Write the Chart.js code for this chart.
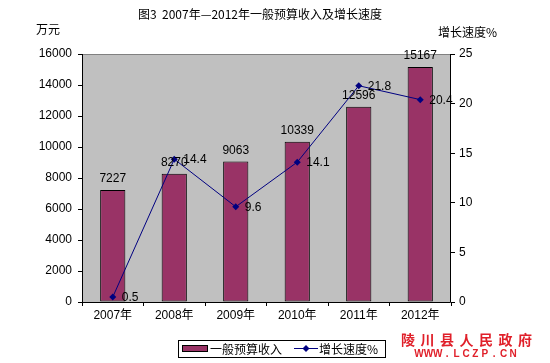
<!DOCTYPE html>
<html>
<head>
<meta charset="utf-8">
<script src="https://cdn.jsdelivr.net/npm/chart.js@4.4.0/dist/chart.umd.min.js"></script>
<style>
  html, body { margin: 0; padding: 0; background: #fff; }
  #wrap { width: 550px; height: 363px; }
</style>
</head>
<body>
<div id="wrap"><canvas id="c"></canvas></div>
<script>
var years = ["2007年", "2008年", "2009年", "2010年", "2011年", "2012年"];
var revenue = [7227, 8270, 9063, 10339, 12596, 15167];
var growth = [0.5, 14.4, 9.6, 14.1, 21.8, 20.4];
var leftTicks = [0, 2000, 4000, 6000, 8000, 10000, 12000, 14000, 16000];
var rightTicks = [0, 5, 10, 15, 20, 25];

var FONT = "'Liberation Sans', Arial, 'Noto Sans CJK SC', sans-serif";
var CJK = "'Noto Sans CJK SC', sans-serif";

// gray plot background + frame, value labels, texts, legend box
var decor = {
    id: "decor",
    beforeDatasetsDraw: function (chart) {
        var a = chart.chartArea, ctx = chart.ctx;
        ctx.save();
        ctx.fillStyle = "#c0c0c0";
        ctx.fillRect(a.left, a.top, a.right - a.left, a.bottom - a.top);
        ctx.restore();
    },
    afterDatasetsDraw: function (chart) {
        var a = chart.chartArea, ctx = chart.ctx;
        ctx.save();
        ctx.strokeStyle = "#808080";
        ctx.lineWidth = 1;
        ctx.beginPath();
        ctx.moveTo(a.left, a.top + 0.5);
        ctx.lineTo(a.right, a.top + 0.5);
        ctx.stroke();
        ctx.strokeStyle = "#000";
        ctx.beginPath();
        ctx.moveTo(a.left + 0.5, a.top);
        ctx.lineTo(a.left + 0.5, a.bottom + 0.5);
        ctx.lineTo(a.right - 0.5, a.bottom + 0.5);
        ctx.lineTo(a.right - 0.5, a.top);
        ctx.stroke();

        ctx.font = "12px " + FONT;
        ctx.fillStyle = "#000";
        // bar labels
        ctx.textAlign = "center";
        ctx.textBaseline = "bottom";
        chart.getDatasetMeta(0).data.forEach(function (b, i) {
            ctx.fillText(String(revenue[i]), b.x, b.y - 5);
        });
        // line labels
        ctx.textAlign = "left";
        ctx.textBaseline = "middle";
        chart.getDatasetMeta(1).data.forEach(function (p, i) {
            ctx.fillText(String(growth[i]), p.x + 9, p.y + 1);
        });
        ctx.restore();
    },
    afterDraw: function (chart) {
        var ctx = chart.ctx;
        ctx.save();
        ctx.fillStyle = "#000";
        ctx.textBaseline = "middle";
        ctx.font = "12px " + CJK;
        ctx.textAlign = "center";
        ctx.fillText("图3  2007年—2012年一般预算收入及增长速度", 260, 14);
        ctx.textAlign = "left";
        ctx.fillText("万元", 36, 29);
        ctx.fillText("增长速度%", 438, 32);

        // legend
        ctx.strokeStyle = "#000";
        ctx.lineWidth = 1;
        ctx.strokeRect(178.5, 340.5, 207, 17);
        ctx.fillStyle = "#993366";
        ctx.fillRect(182, 345, 26, 7);
        ctx.strokeRect(182.5, 345.5, 25, 6);
        ctx.fillStyle = "#000";
        ctx.fillText("一般预算收入", 210, 349);
        ctx.strokeStyle = "#000080";
        ctx.beginPath();
        ctx.moveTo(294, 348.5);
        ctx.lineTo(318, 348.5);
        ctx.stroke();
        ctx.fillStyle = "#000080";
        ctx.beginPath();
        ctx.moveTo(306, 345);
        ctx.lineTo(309.5, 348.5);
        ctx.lineTo(306, 352);
        ctx.lineTo(302.5, 348.5);
        ctx.closePath();
        ctx.fill();
        ctx.fillStyle = "#000";
        ctx.fillText("增长速度%", 319, 349);

        // watermark
        ctx.fillStyle = "#e0202a";
        ctx.textAlign = "center";
        ctx.font = "bold 14px " + CJK;
        var wm = "陵川县人民政府";
        for (var i = 0; i < wm.length; i++) {
            ctx.fillText(wm[i], 408 + i * 19.5, 340);
        }
        ctx.font = "bold 10px " + FONT;
        var url = "WWW.LCZP.CN";
        for (var j = 0; j < url.length; j++) {
            ctx.fillText(url[j], 419 + j * 9.4, 354);
        }
        ctx.restore();
    }
};

new Chart(document.getElementById("c").getContext("2d"), {
    type: "bar",
    data: {
        labels: years,
        datasets: [
            {
                label: "一般预算收入",
                data: revenue,
                yAxisID: "y",
                backgroundColor: "#993366",
                borderColor: "#000",
                borderWidth: 1,
                borderSkipped: false,
                categoryPercentage: 1,
                barPercentage: 0.41,
                order: 2,
            },
            {
                type: "line",
                label: "增长速度%",
                data: growth,
                yAxisID: "y1",
                borderColor: "#000080",
                backgroundColor: "#000080",
                borderWidth: 1,
                pointStyle: "rectRot",
                pointRadius: 3.5,
                pointBorderWidth: 0,
                tension: 0,
                order: 1,
            },
        ],
    },
    options: {
        responsive: true,
        maintainAspectRatio: false,
        animation: false,
        layout: { padding: { top: 54, bottom: 31, left: 0, right: 0 } },
        plugins: {
            legend: { display: false },
            tooltip: { enabled: false },
        },
        scales: {
            x: {
                offset: true,
                ticks: { color: "#000", font: { size: 12, family: FONT }, padding: 2 },
                grid: { display: true, drawOnChartArea: false, color: "#000", tickLength: 4, offset: true },
                border: { display: false },
                afterFit: function (s) { s.height = 30; },
            },
            y: {
                position: "left",
                min: 0,
                max: 16000,
                afterBuildTicks: function (s) { s.ticks = leftTicks.map(function (v) { return { value: v }; }); },
                ticks: {
                    color: "#000",
                    font: { size: 12, family: FONT },
                    padding: 6,
                    callback: function (v) { return String(v); },
                },
                grid: { display: true, drawOnChartArea: false, color: "#000", tickLength: 4 },
                border: { display: false },
                afterFit: function (s) { s.width = 82; },
            },
            y1: {
                position: "right",
                min: 0,
                max: 25,
                afterBuildTicks: function (s) { s.ticks = rightTicks.map(function (v) { return { value: v }; }); },
                ticks: { color: "#000", font: { size: 12, family: FONT }, padding: 4 },
                grid: { display: true, drawOnChartArea: false, color: "#000", tickLength: 4 },
                border: { display: false },
                afterFit: function (s) { s.width = 99; },
            },
        },
    },
    plugins: [decor],
});
</script>
</body>
</html>
